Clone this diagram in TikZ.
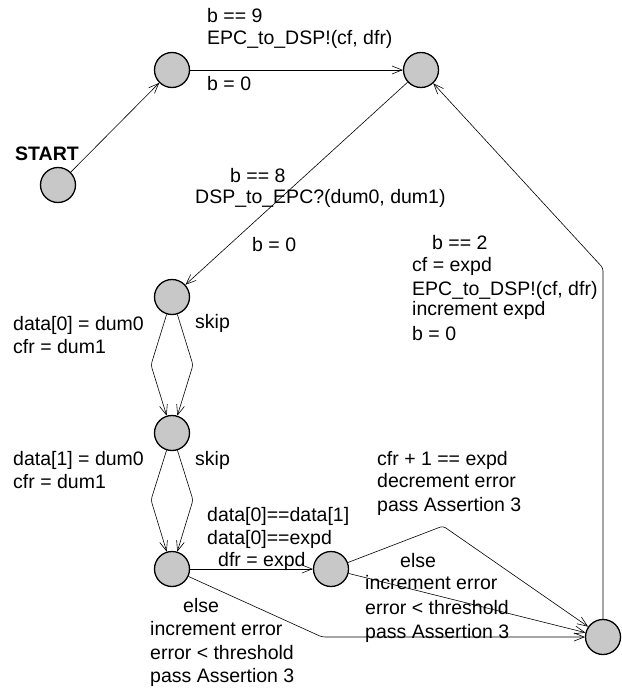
\documentclass[tikz,border=0pt]{standalone}
\usepackage{fontspec}
\setmainfont{Liberation Sans}
\usetikzlibrary{arrows.meta}
\definecolor{locgray}{RGB}{200,200,200}
\begin{document}
\begin{tikzpicture}[x=1pt,y=-1pt,
  loc/.style={circle,draw=black,line width=1.3pt,fill=locgray,minimum size=35pt,inner sep=0pt},
  edge/.style={draw=black,line width=0.6pt,rounded corners=3pt,-{Straight Barb[length=10pt,width=8pt,line width=0.6pt]}},
  lbl/.style={anchor=base west,inner sep=0pt,font=\fontsize{19.5}{22}\selectfont}]
\useasboundingbox (0,0) rectangle (621,690);
% locations
\node[loc] (start) at (58,185) {};
\node[loc] (n1) at (172,70) {};
\node[loc] (n2) at (421,70) {};
\node[loc] (n3) at (172,297) {};
\node[loc] (n4) at (172,433) {};
\node[loc] (n5) at (172,569) {};
\node[loc] (n6) at (331,569) {};
\node[loc] (n7) at (603,637) {};
% bend points
\coordinate (c72) at (603,268);
\coordinate (c34a) at (151,365);
\coordinate (c34b) at (193,365);
\coordinate (c45a) at (151,500);
\coordinate (c45b) at (193,500);
\coordinate (c57) at (322,637);
\coordinate (c67) at (443,526);
% edges
\draw[edge] (start) -- (n1);
\draw[edge] (n1) -- (n2);
\draw[edge] (n2) -- (n3);
\draw[edge] (n7) -- (c72) -- (n2);
\draw[edge] (n3) -- (c34a) -- (n4);
\draw[edge] (n3) -- (c34b) -- (n4);
\draw[edge] (n4) -- (c45a) -- (n5);
\draw[edge] (n4) -- (c45b) -- (n5);
\draw[edge] (n5) -- (n6);
\draw[edge] (n5) -- (c57) -- (n7);
\draw[edge] (n6) -- (c67) -- (n7);
\draw[edge] (n6) -- (n7);
% labels
\node[lbl,font=\fontsize{19.5}{22}\selectfont\bfseries] (tstart) at (15,160) {START};
\node[lbl] (t1a) at (207,23) {b == 9};
\node[lbl] (t1b) at (207,45) {EPC\_to\_DSP!(cf, dfr)};
\node[lbl] (t1c) at (207,91) {b = 0};
\node[lbl] (t2a) at (230,182) {b == 8};
\node[lbl] (t2b) at (195,203) {DSP\_to\_EPC?(dum0, dum1)};
\node[lbl] (t2c) at (252,251) {b = 0};
\node[lbl] (t3a) at (432,249) {b == 2};
\node[lbl] (t3b) at (412,271) {cf = expd};
\node[lbl] (t3c) at (412,295) {EPC\_to\_DSP!(cf, dfr)};
\node[lbl] (t3d) at (412,315) {increment expd};
\node[lbl] (t3e) at (412,340) {b = 0};
\node[lbl] (t4a) at (13,330) {data[0] = dum0};
\node[lbl] (t4b) at (13,353) {cfr = dum1};
\node[lbl] (t4c) at (195,328) {skip};
\node[lbl] (t5a) at (13,465) {data[1] = dum0};
\node[lbl] (t5b) at (13,488) {cfr = dum1};
\node[lbl] (t5c) at (195,465) {skip};
\node[lbl] (t6a) at (207,521) {data[0]==data[1]};
\node[lbl] (t6b) at (207,544) {data[0]==expd};
\node[lbl] (t6c) at (218,566) {dfr = expd};
\node[lbl] (t7a) at (183,612) {else};
\node[lbl] (t7b) at (150,635) {increment error};
\node[lbl] (t7c) at (150,659) {error < threshold};
\node[lbl] (t7d) at (150,682) {pass Assertion 3};
\node[lbl] (t8a) at (377,465) {cfr + 1 == expd};
\node[lbl] (t8b) at (377,487) {decrement error};
\node[lbl] (t8c) at (377,511) {pass Assertion 3};
\node[lbl] (t9a) at (400,567) {else};
\node[lbl] (t9b) at (365,589) {increment error};
\node[lbl] (t9c) at (365,614) {error < threshold};
\node[lbl] (t9d) at (365,638) {pass Assertion 3};
\end{tikzpicture}
\end{document}
